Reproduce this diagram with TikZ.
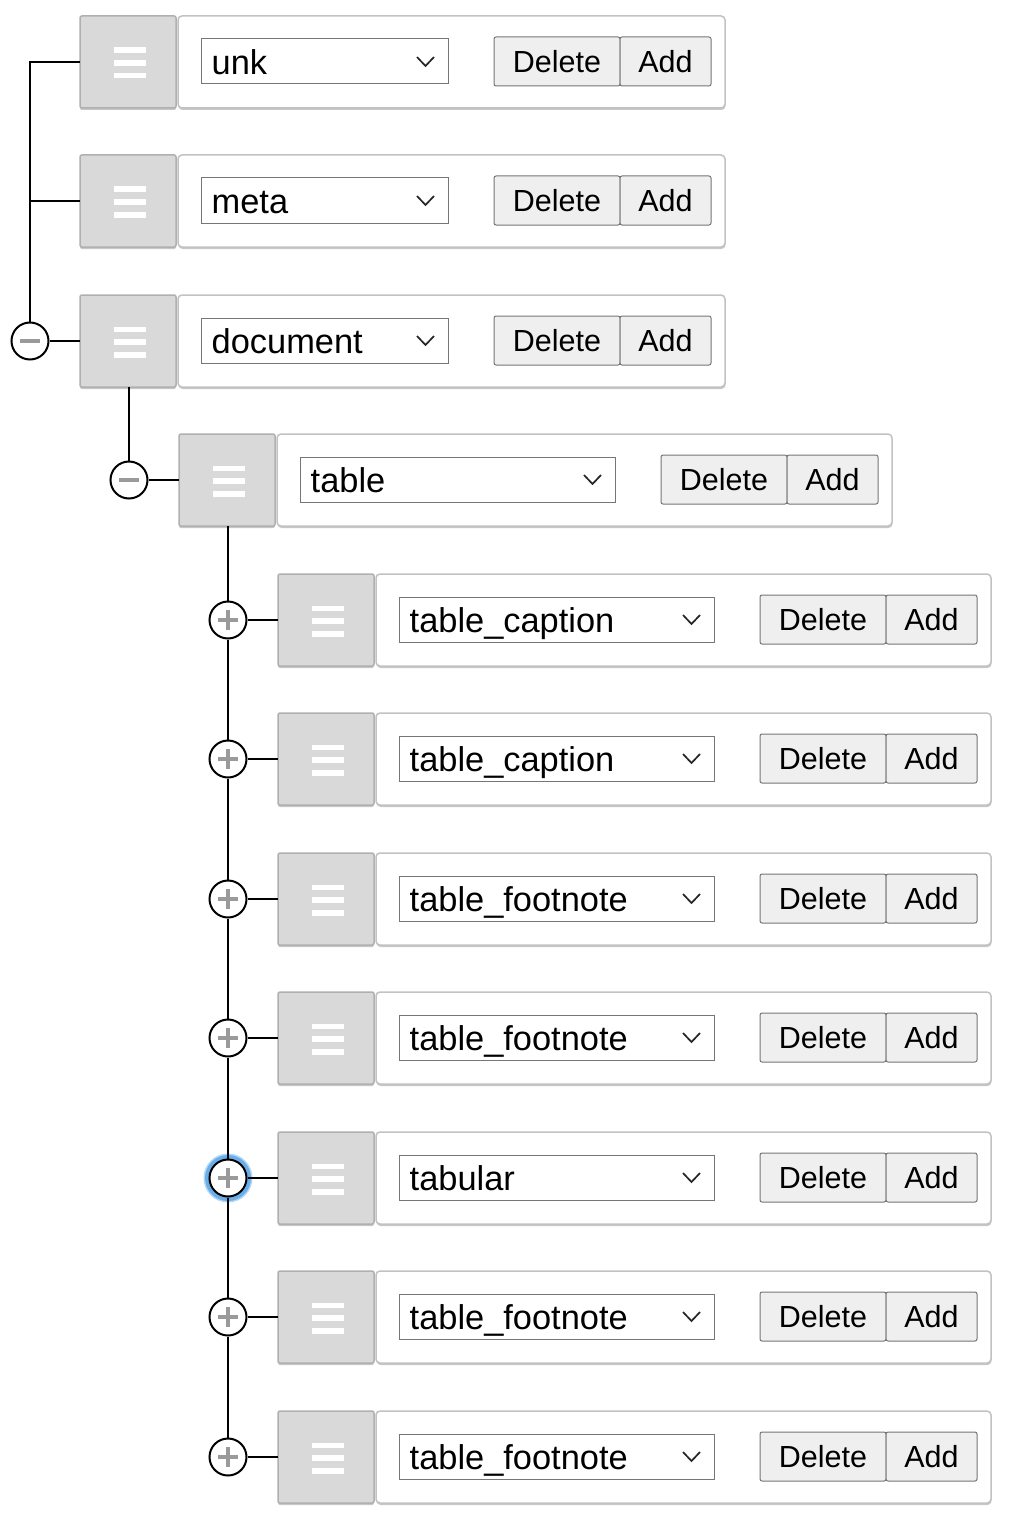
\documentclass[tikz,border=0pt]{standalone}
\usepackage{fontspec}
\setmainfont{Liberation Sans}
\usetikzlibrary{calc,shadows}
\definecolor{handlefill}{HTML}{D9D9D9}
\definecolor{handledraw}{HTML}{B0B0B0}
\definecolor{mainborder}{HTML}{C2C2C2}
\definecolor{ctrlborder}{HTML}{767676}
\definecolor{btnfill}{HTML}{EFEFEF}
\definecolor{signgray}{HTML}{9A9A9A}
\definecolor{glowblue}{HTML}{6AAEEA}
\definecolor{glowlight}{HTML}{B3D7F6}
\tikzset{
  handle/.style={draw=handledraw, fill=handlefill, line width=1.5pt, rounded corners=2pt,
    minimum width=96pt, minimum height=92pt, inner sep=0pt, outer sep=0pt, anchor=north west,
    drop shadow={shadow xshift=0pt, shadow yshift=-2pt, fill=black, opacity=0.22}},
  mainbox/.style={draw=mainborder, fill=white, line width=1.5pt, rounded corners=4pt,
    minimum height=92pt, inner sep=0pt, outer sep=0pt, anchor=north west,
    drop shadow={shadow xshift=0.5pt, shadow yshift=-2pt, fill=black, opacity=0.22}},
  dropbox/.style={draw=ctrlborder, fill=white, line width=1pt, minimum height=45pt,
    inner sep=0pt, outer sep=0pt, anchor=north west},
  ddtext/.style={anchor=base west, inner sep=0pt, font=\fontsize{34.4pt}{40pt}\selectfont},
  chev/.style={draw=black!85, line width=1.7pt},
  btn/.style={draw=ctrlborder, fill=btnfill, line width=1pt, rounded corners=2pt,
    minimum height=49pt, inner sep=0pt, outer sep=0pt, anchor=north west,
    text height=22pt, text depth=0pt, font=\fontsize{30.5pt}{36pt}\selectfont},
  tog/.style={circle, draw=black, fill=white, line width=2pt, minimum size=37pt, inner sep=0pt},
  sign/.style={draw=signgray, line width=4pt},
  tree/.style={draw=black, line width=2.2pt},
}
% id, handle x, top, text, main width, dropdown width, delete offset
\newcommand\uirow[7]{%
  \node[handle] (h#1) at (#2,#3) {};
  \fill[white] (#2+34,#3+31.5) rectangle (#2+66,#3+37);
  \fill[white] (#2+34,#3+44.25) rectangle (#2+66,#3+49.75);
  \fill[white] (#2+34,#3+57) rectangle (#2+66,#3+62.5);
  \node[mainbox, minimum width=#5pt] (m#1) at (#2+98,#3) {};
  \node[dropbox, minimum width=#6pt] (d#1) at (#2+121,#3+23) {};
  \node[ddtext] (t#1) at ($(d#1.west)+(10.5,13)$) {#4};
  \draw[chev] ($(d#1.east)+(-31,-4.5)$) -- ++(8.5,9) -- ++(8.5,-9);
  \node[btn, minimum width=126pt] (del#1) at (#2+98+#7,#3+21) {Delete};
  \node[btn, minimum width=91pt] (add#1) at (del#1.north east) {Add};
}
\newcommand\minussign[1]{\draw[sign] ($(#1.center)+(-10,0)$) -- ($(#1.center)+(10,0)$);}
\newcommand\plussign[1]{\draw[sign] ($(#1.center)+(-10,0)$) -- ($(#1.center)+(10,0)$);
  \draw[sign] ($(#1.center)+(0,-10)$) -- ($(#1.center)+(0,10)$);}
\begin{document}
\begin{tikzpicture}[x=1pt,y=-1pt]
\fill[white] (0,0) rectangle (1030,1525);
\useasboundingbox (0,0) rectangle (1030,1525);
\uirow{0}{80}{16}{unk}{547}{247}{316}
\uirow{1}{80}{155}{meta}{547}{247}{316}
\uirow{2}{80}{295}{document}{547}{247}{316}
\uirow{3}{179}{434}{table}{615}{315}{384}
\uirow{4}{278}{574}{table\_caption}{615}{315}{384}
\uirow{5}{278}{713}{table\_caption}{615}{315}{384}
\uirow{6}{278}{853}{table\_footnote}{615}{315}{384}
\uirow{7}{278}{992}{table\_footnote}{615}{315}{384}
\uirow{8}{278}{1132}{tabular}{615}{315}{384}
\uirow{9}{278}{1271}{table\_footnote}{615}{315}{384}
\uirow{10}{278}{1411}{table\_footnote}{615}{315}{384}
% toggles
\node[tog] (c2) at ($(h2.west)+(-50,0)$) {};
\minussign{c2}
\node[tog] (c3) at ($(h2.south |- h3.west)+(1,0)$) {};
\minussign{c3}
\foreach \i in {4,5,6,7,9,10}{
  \node[tog] (c\i) at ($(h3.south |- h\i.west)+(1,0)$) {};
  \plussign{c\i}
}
\coordinate (g8) at ($(h3.south |- h8.west)+(1,0)$);
\fill[glowlight] (g8) circle (24.5pt);
\fill[glowblue] (g8) circle (23pt);
\node[tog] (c8) at (g8) {};
\plussign{c8}
% tree lines
\draw[tree] (h0.west) -| (c2.north);
\draw[tree] (h1.west) -- (h1.west -| c2.north);
\draw[tree] (c2.east) -- (h2.west);
\draw[tree] (c3.north |- h2.south) -- (c3.north);
\draw[tree] (c3.east) -- (h3.west);
\draw[tree] (c4.north |- h3.south) -- (c4.north);
\foreach \i/\j in {4/5,5/6,6/7,7/8,8/9,9/10}{
  \draw[tree] (c\i.south) -- (c\j.north);
}
\foreach \i in {4,5,6,7,8,9,10}{
  \draw[tree] (c\i.east) -- (h\i.west);
}
\end{tikzpicture}
\end{document}
